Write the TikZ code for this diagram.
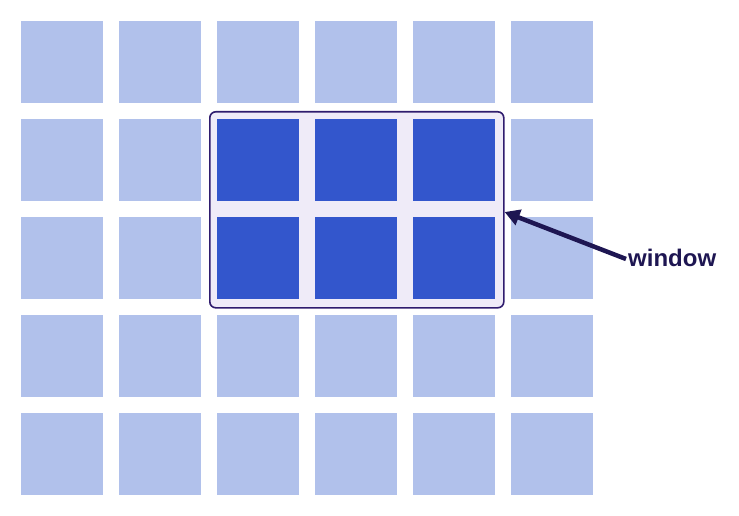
\documentclass[tikz,border=0pt]{standalone}
\usepackage{fontspec}
\setmainfont{Liberation Sans}
\usetikzlibrary{arrows.meta}
\definecolor{lightsq}{HTML}{B1C1EB}
\definecolor{darksq}{HTML}{3356CC}
\definecolor{winfill}{HTML}{EFEBF8}
\definecolor{winedge}{HTML}{2F1C6E}
\definecolor{arrowcol}{HTML}{1E1652}
\tikzset{
  cell/.style={fill=lightsq, draw=none, minimum size=82pt, inner sep=0pt, anchor=north west},
  hotcell/.style={cell, fill=darksq},
  winbox/.style={fill=winfill, draw=winedge, line width=1.6pt, rounded corners=6pt},
  pointer/.style={draw=arrowcol, line width=4.5pt, -{Triangle[length=15pt,width=16pt]}},
  lbl/.style={font=\bfseries\fontsize{24}{26}\selectfont, text=arrowcol, inner sep=0pt}
}
\begin{document}
\begin{tikzpicture}[x=1pt,y=-1pt]
\useasboundingbox (0,0) rectangle (739,516);
\foreach \c in {0,...,5}{
  \foreach \r in {0,...,4}{
    \node[cell] (c\c\r) at ({21+98*\c},{21+98*\r}) {};
  }
}
\node[winbox, minimum width=294pt, minimum height=196pt, inner sep=0pt, anchor=north west] (win) at (209,111) {};
\foreach \c in {2,3,4}{
  \foreach \r in {1,2}{
    \node[hotcell] (h\c\r) at ({21+98*\c},{21+98*\r}) {};
  }
}
\node[lbl, anchor=base west] (lab) at (628,266) {window};
\coordinate (tail) at (626,259);
\draw[pointer] (tail) -- (win.east |- 0,212) ;
\end{tikzpicture}
\end{document}
